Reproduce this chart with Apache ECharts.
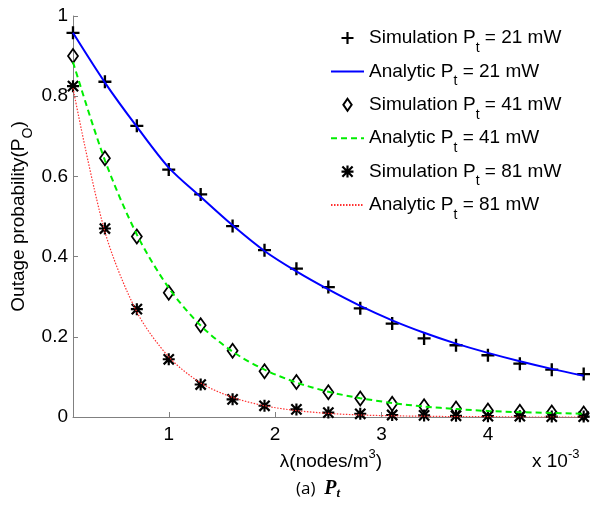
<!DOCTYPE html>
<html>
<head>
<meta charset="utf-8">
<script src="https://cdn.jsdelivr.net/npm/echarts@6/dist/echarts.min.js"></script>
<style>
  html, body { margin: 0; padding: 0; background: #fff; }
  #chart { width: 590px; height: 512px; }
</style>
</head>
<body>
<div id="chart"></div>
<script>
// lambda (x 10^-3 nodes/m^3)
var lambdaVals = [0.1, 0.4, 0.7, 1.0, 1.3, 1.6, 1.9, 2.2, 2.5, 2.8, 3.1, 3.4, 3.7, 4.0, 4.3, 4.6, 4.9];

// Pt = 21 mW
var sim21 = [0.958, 0.836, 0.726, 0.617, 0.555, 0.476, 0.416, 0.370, 0.324, 0.271, 0.233, 0.196, 0.179, 0.154, 0.133, 0.118, 0.107];
var ana21 = [0.958, 0.834, 0.724, 0.622, 0.549, 0.478, 0.414, 0.363, 0.318, 0.277, 0.241, 0.210, 0.183, 0.160, 0.139, 0.120, 0.103];

// Pt = 41 mW
var sim41 = [0.900, 0.645, 0.450, 0.310, 0.229, 0.165, 0.114, 0.087, 0.062, 0.046, 0.033, 0.027, 0.021, 0.016, 0.013, 0.011, 0.009];
var ana41 = [0.885, 0.640, 0.455, 0.322, 0.228, 0.163, 0.118, 0.086, 0.063, 0.047, 0.035, 0.026, 0.020, 0.015, 0.012, 0.010, 0.008];

// Pt = 81 mW
var sim81 = [0.825, 0.470, 0.269, 0.144, 0.081, 0.044, 0.028, 0.019, 0.011, 0.008, 0.005, 0.004, 0.003, 0.002, 0.002, 0.001, 0.001];
var ana81 = [0.820, 0.462, 0.262, 0.150, 0.085, 0.049, 0.028, 0.016, 0.009, 0.005, 0.003, 0.002, 0.001, 0.001, 0.000, 0.000, 0.000];

var xTicks = [1, 2, 3, 4];
var seriesNames = [
	'Simulation P{sub|t} = 21 mW',
	'Analytic P{sub|t} = 21 mW',
	'Simulation P{sub|t} = 41 mW',
	'Analytic P{sub|t} = 41 mW',
	'Simulation P{sub|t} = 81 mW',
	'Analytic P{sub|t} = 81 mW'
];

var FONT = '"Liberation Sans", Arial, sans-serif';

// marker shapes (matlab style + and *)
var plusPath = 'path://M4.1,0H5.9V4.1H10V5.9H5.9V10H4.1V5.9H0V4.1H4.1Z';
var starPath = 'path://M4.1,0H5.9V10H4.1Z M0,4.1H10V5.9H0Z M1.4,0.1L9.9,8.6L8.6,9.9L0.1,1.4Z M8.6,0.1L9.9,1.4L1.4,9.9L0.1,8.6Z';
var diamondPath = 'path://M4.5,0L9,6.5L4.5,13L0,6.5Z';

function pairs(xs, ys) {
	return xs.map(function (x, i) {
		return [x, ys[i]];
	});
}

function simSeries(name, ys, symbol, size, style) {
	style.opacity = 1;
	return {
		name: name,
		type: 'scatter',
		data: pairs(lambdaVals, ys),
		symbol: symbol,
		symbolSize: size,
		itemStyle: style
	};
}

function anaSeries(name, ys, color, type, width) {
	return {
		name: name,
		type: 'line',
		data: pairs(lambdaVals, ys),
		symbol: 'none',
		showSymbol: false,
		smooth: 0.3,
		lineStyle: { color: color, type: type, width: width },
		itemStyle: { color: color }
	};
}

// legend entries: hide the dot that echarts puts on line icons
var legendData = seriesNames.map(function (n, i) {
	if (i % 2 == 1) {
		return { name: n, itemStyle: { opacity: 0 } };
	}
	if (i == 2) {
		return { name: n, icon: diamondPath };
	}
	return { name: n };
});

var chart = echarts.init(document.getElementById('chart'));

var option = {
	animation: false,
	backgroundColor: '#fff',
	grid: { left: 73, top: 16, width: 516, height: 401, containLabel: false, outerBoundsMode: 'none' },
	legend: {
		orient: 'vertical',
		left: 325,
		top: 16,
		itemWidth: 33,
		itemHeight: 12,
		itemGap: -0.6,
		selectedMode: false,
		data: legendData,
		textStyle: {
			fontFamily: FONT,
			fontSize: 19,
			color: '#000',
			rich: {
				sub: { fontFamily: FONT, fontSize: 14, lineHeight: 14, padding: [20, 0, 0, 0], color: '#000' }
			}
		}
	},
	xAxis: {
		type: 'value',
		min: 0.1,
		max: 4.95,
		name: 'λ(nodes/m{sup|3})',
		nameLocation: 'middle',
		nameGap: 35,
		nameMoveOverlap: false,
		nameTextStyle: {
			fontFamily: FONT,
			fontSize: 19,
			color: '#000',
			rich: {
				sup: { fontFamily: FONT, fontSize: 13, lineHeight: 13, padding: [0, 0, 14, 0], color: '#000' }
			}
		},
		axisLine: { onZero: false, lineStyle: { color: '#808080', width: 1 } },
		axisTick: { inside: true, length: 5, customValues: xTicks, lineStyle: { color: '#808080' } },
		axisLabel: { customValues: xTicks, fontFamily: FONT, fontSize: 19, color: '#000', margin: 8 },
		splitLine: { show: false }
	},
	yAxis: {
		type: 'value',
		min: 0,
		max: 1,
		interval: 0.2,
		name: 'Outage probability(P{sub|O})',
		nameLocation: 'middle',
		nameRotate: 90,
		nameGap: 45,
		nameMoveOverlap: false,
		nameTextStyle: {
			fontFamily: FONT,
			fontSize: 19,
			color: '#000',
			rich: {
				sub: { fontFamily: FONT, fontSize: 14, lineHeight: 14, padding: [20, 0, 0, 0], color: '#000' }
			}
		},
		axisLine: { show: true, lineStyle: { color: '#808080', width: 1 } },
		axisTick: { show: true, inside: true, length: 5, lineStyle: { color: '#808080' } },
		axisLabel: { fontFamily: FONT, fontSize: 19, color: '#000', margin: 5 },
		splitLine: { show: false }
	},
	graphic: [
		{
			type: 'text',
			left: 532,
			top: 448,
			style: {
				text: 'x 10{sup|-3}',
				font: '19px ' + FONT,
				fill: '#000',
				rich: {
					sup: { fontFamily: FONT, fontSize: 13, lineHeight: 13, padding: [0, 0, 14, 0], fill: '#000' }
				}
			}
		},
		{
			type: 'text',
			left: 296,
			top: 479,
			style: {
				text: '(a)  {p|P}{t|t}',
				font: '17px "Open Sans", sans-serif',
				fill: '#000',
				rich: {
					p: { fontFamily: '"Liberation Serif", serif', fontStyle: 'italic', fontWeight: 'bold', fontSize: 20, fill: '#000' },
					t: { fontFamily: '"Liberation Serif", serif', fontStyle: 'italic', fontWeight: 'bold', fontSize: 13, padding: [10, 0, 0, 0], fill: '#000' }
				}
			}
		}
	],
	series: [
		simSeries(seriesNames[0], sim21, plusPath, 13, { color: '#000' }),
		anaSeries(seriesNames[1], ana21, '#0000ff', 'solid', 2),
		simSeries(seriesNames[2], sim41, 'diamond', [10, 14], { color: 'rgba(0,0,0,0)', borderColor: '#000', borderWidth: 1.8 }),
		anaSeries(seriesNames[3], ana41, '#00ee00', [6, 4], 2),
		simSeries(seriesNames[4], sim81, starPath, 12, { color: '#000' }),
		anaSeries(seriesNames[5], ana81, '#ff3030', [1.5, 1.5], 1.2)
	]
};

chart.setOption(option);
</script>
</body>
</html>
